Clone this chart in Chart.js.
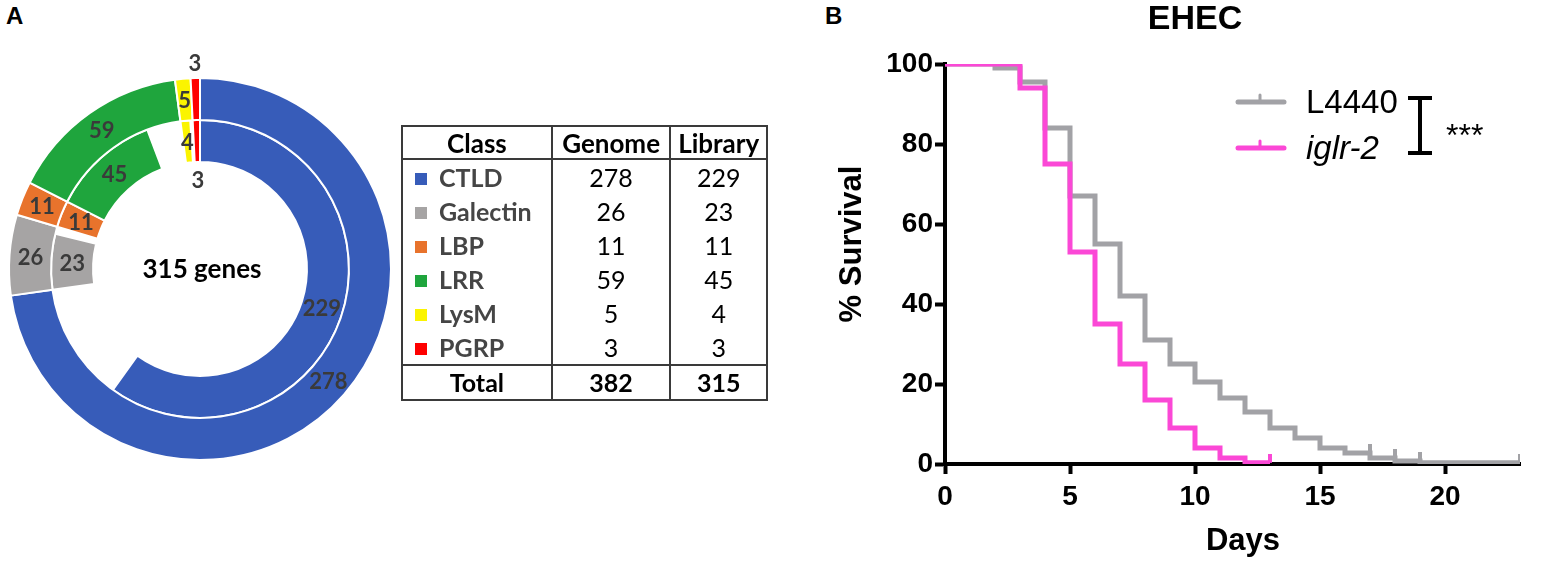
<!DOCTYPE html>
<html lang="en">
<head>
  <meta charset="UTF-8" />
  <title>Lectin classes and EHEC survival</title>
  <script src="https://cdn.jsdelivr.net/npm/chart.js"></script>
  <style>
    body {
      margin: 0;
      width: 1546px;
      height: 561px;
      background: #fff;
      position: relative;
      overflow: hidden;
      font-family: Lato, sans-serif;
    }
    .panel {
      position: absolute;
      font-family: "Liberation Sans", Arial, sans-serif;
      font-weight: bold;
      font-size: 24px;
    }
    #donut { position: absolute; left: -10px; top: 49px; }
    #surv { position: absolute; left: 800px; top: 0; }
    table {
      position: absolute;
      left: 401px;
      top: 125px;
      width: 367px;
      border-collapse: collapse;
      border: 2px solid #3a3a3a;
      font-size: 25px;
      line-height: 1;
    }
    th { font-weight: bold; font-size: 26px; height: 31px; padding: 0; border-bottom: 2px solid #3a3a3a; }
    td { height: 34px; padding: 0; text-align: center; }
    th + th, td + td { border-left: 2px solid #3a3a3a; }
    td.cls { text-align: left; font-weight: bold; color: #454545; padding-left: 12px; }
    .sw { display: inline-block; width: 12px; height: 12px; margin-right: 12px; vertical-align: 2px; }
    tr.total td { font-weight: bold; border-top: 2px solid #3a3a3a; height: 33px; }
  </style>
</head>
<body>
  <div class="panel" style="left:6px; top:2px;">A</div>
  <div class="panel" style="left:825px; top:2px;">B</div>
  <canvas id="donut" width="420" height="440"></canvas>
  <table id="tbl">
    <colgroup><col style="width:151px"><col style="width:119px"><col style="width:97px"></colgroup>
    <thead><tr><th>Class</th><th>Genome</th><th>Library</th></tr></thead>
    <tbody id="tbody"></tbody>
  </table>
  <canvas id="surv" width="746" height="561"></canvas>

  <script>
    // panel A: lectin classes, genome vs RNAi library
    const classes = ['CTLD', 'Galectin', 'LBP', 'LRR', 'LysM', 'PGRP'];
    const genome = [278, 26, 11, 59, 5, 3];
    const library = [229, 23, 11, 45, 4, 3];
    const classColors = ['#375cb9', '#a6a4a4', '#e8732c', '#1fa53d', '#fbf400', '#fe0000'];

    // panel B: survival on EHEC (step values after each day)
    const ctrlDays = [0, 2, 3, 4, 5, 6, 7, 8, 9, 10, 11, 12, 13, 14, 15, 16, 17, 18, 19, 23];
    const ctrlSurvival = [100, 99, 95.5, 84, 67, 55, 42, 31, 25, 20.5, 16.5, 13, 9, 6.5, 4, 2.75, 1.5, 0.75, 0.3, 0.3];
    const iglrDays = [0, 3, 4, 5, 6, 7, 8, 9, 10, 11, 12, 13];
    const iglrSurvival = [100, 94, 75, 53, 35, 25, 16, 9, 4, 1.5, 0.3, 0.3];
    const ctrlCensorDays = [2, 17, 18, 19, 23];
    const ctrlCensorY = [100, 2.75, 1.5, 0.75, 0.3];
    const iglrCensorDays = [13];
    const iglrCensorY = [0.3];
    const xTicks = [0, 5, 10, 15, 20];

    const GRAY = '#a2a2a6';
    const PINK = '#fb48d6';
    const CLEAR = 'rgba(0,0,0,0)';

    // ---- table ----
    const tbody = document.getElementById('tbody');
    classes.forEach((c, i) => {
      const tr = document.createElement('tr');
      tr.innerHTML = '<td class="cls"><span class="sw" style="background:' + classColors[i] + '"></span>' + c +
        '</td><td>' + genome[i] + '</td><td>' + library[i] + '</td>';
      tbody.appendChild(tr);
    });
    const sum = a => a.reduce((s, v) => s + v, 0);
    const tot = document.createElement('tr');
    tot.className = 'total';
    tot.innerHTML = '<td style="text-align:center">Total</td><td>' + sum(genome) + '</td><td>' + sum(library) + '</td>';
    tbody.appendChild(tot);

    // ---- doughnut ----
    // each class takes two slots: the value, then a transparent gap up to the genome count
    const outerData = genome.flatMap(v => [v, 0]);
    const innerData = library.flatMap((v, i) => [v, genome[i] - v]);
    const slotColors = classColors.flatMap(c => [c, CLEAR]);
    const slotBorders = classColors.flatMap(() => ['#fff', CLEAR]);

    const ringLabels = {
      id: 'ringLabels',
      afterDatasetsDraw(chart) {
        const ctx = chart.ctx;
        ctx.save();
        ctx.font = 'bold 22px Lato';
        ctx.fillStyle = '#3a3a3a';
        ctx.textAlign = 'center';
        ctx.textBaseline = 'middle';
        let cx = 0, cy = 0;
        chart.data.datasets.forEach((ds, di) => {
          chart.getDatasetMeta(di).data.forEach((arc, i) => {
            if (i % 2) return;
            const p = arc.getProps(['x', 'y', 'startAngle', 'endAngle', 'innerRadius', 'outerRadius'], true);
            cx = p.x; cy = p.y;
            const mid = (p.startAngle + p.endAngle) / 2;
            let r = (p.innerRadius + p.outerRadius) / 2;
            // the thin PGRP slices get their number outside the ring
            if (i / 2 === 5) r = di === 0 ? p.outerRadius + 15 : p.innerRadius - 18;
            ctx.fillText(ds.data[i], p.x + Math.cos(mid) * r, p.y + Math.sin(mid) * r + 1);
          });
        });
        ctx.font = 'bold 26px Lato';
        ctx.fillStyle = '#000';
        ctx.textBaseline = 'alphabetic';
        ctx.fillText(sum(library) + ' genes', cx + 2, cy + 9);
        ctx.restore();
      }
    };

    new Chart(document.getElementById('donut'), {
      type: 'doughnut',
      data: {
        labels: classes.flatMap(c => [c, '']),
        datasets: [
          { data: outerData, backgroundColor: slotColors, borderColor: slotBorders, borderWidth: 2 },
          { data: innerData, backgroundColor: slotColors, borderColor: slotBorders, borderWidth: 2 }
        ]
      },
      options: {
        responsive: false,
        animation: false,
        radius: 191,
        cutout: '56%',
        plugins: { legend: { display: false }, tooltip: { enabled: false } }
      },
      plugins: [ringLabels]
    });

    // ---- survival curve ----
    function censorMark(color) {
      const c = document.createElement('canvas');
      c.width = 4; c.height = 18;
      const g = c.getContext('2d');
      g.fillStyle = color;
      g.fillRect(0, 0, 4, 9);
      return c;
    }
    const pts = (xs, ys) => xs.map((x, i) => ({ x, y: ys[i] }));
    const tickFont = { family: 'Liberation Sans', weight: 'bold', size: 28 };

    const extras = {
      id: 'extras',
      afterDraw(chart) {
        const ctx = chart.ctx;
        ctx.save();
        ctx.fillStyle = '#000';
        ctx.textAlign = 'center';
        ctx.font = 'bold 34px "Liberation Sans"';
        ctx.fillText('EHEC', 395, 29);
        ctx.font = 'bold 31px "Liberation Sans"';
        ctx.fillText('Days', 443, 550);
        ctx.save();
        ctx.translate(61, 244);
        ctx.rotate(-Math.PI / 2);
        ctx.fillText('% Survival', 0, 0);
        ctx.restore();

        // legend
        ctx.lineWidth = 5;
        ctx.lineCap = 'round';
        [[GRAY, 102, 'L4440', 'normal'], [PINK, 148, 'iglr-2', 'italic']].forEach(([col, y, txt, style]) => {
          ctx.strokeStyle = col;
          ctx.beginPath();
          ctx.moveTo(438, y); ctx.lineTo(484, y);
          ctx.stroke();
          ctx.lineWidth = 3;
          ctx.beginPath();
          ctx.moveTo(460, y); ctx.lineTo(460, y - 7);
          ctx.stroke();
          ctx.lineWidth = 5;
          ctx.font = style + ' 33px "Liberation Sans"';
          ctx.textAlign = 'left';
          ctx.fillText(txt, 506, y + 11);
        });

        // significance bracket
        ctx.strokeStyle = '#000';
        ctx.lineWidth = 4;
        ctx.lineCap = 'butt';
        ctx.beginPath();
        ctx.moveTo(608, 98); ctx.lineTo(632, 98);
        ctx.moveTo(620, 98); ctx.lineTo(620, 153);
        ctx.moveTo(608, 153); ctx.lineTo(632, 153);
        ctx.stroke();
        ctx.font = '32px "Liberation Sans"';
        ctx.fillText('***', 646, 146);
        ctx.restore();
      }
    };

    new Chart(document.getElementById('surv'), {
      type: 'line',
      data: {
        datasets: [
          { label: 'L4440', data: pts(ctrlDays, ctrlSurvival), borderColor: GRAY, borderWidth: 5, stepped: true, pointRadius: 0, order: 3 },
          { label: 'iglr-2', data: pts(iglrDays, iglrSurvival), borderColor: PINK, borderWidth: 5, stepped: true, pointRadius: 0, order: 1 },
          { data: pts(ctrlCensorDays, ctrlCensorY), showLine: false, pointStyle: censorMark(GRAY), pointRadius: 5, order: 2 },
          { data: pts(iglrCensorDays, iglrCensorY), showLine: false, pointStyle: censorMark(PINK), pointRadius: 5, order: 0 }
        ]
      },
      options: {
        responsive: false,
        animation: false,
        layout: { padding: { top: 64, right: 26, left: 0, bottom: 0 } },
        plugins: { legend: { display: false }, tooltip: { enabled: false } },
        scales: {
          x: {
            type: 'linear',
            min: 0,
            max: 23,
            afterBuildTicks: s => { s.ticks = xTicks.map(v => ({ value: v })); },
            ticks: { font: tickFont, color: '#000', padding: 6, maxRotation: 0 },
            grid: { drawOnChartArea: false, tickLength: 10, tickWidth: 4, tickColor: '#000' },
            border: { color: '#000', width: 4 },
            afterFit: s => { s.height = 97; }
          },
          y: {
            min: 0,
            max: 100,
            ticks: { stepSize: 20, font: tickFont, color: '#000', padding: 2 },
            grid: { drawOnChartArea: false, tickLength: 10, tickWidth: 4, tickColor: '#000' },
            border: { color: '#000', width: 4 },
            afterFit: s => { s.width = 145; }
          }
        }
      },
      plugins: [extras]
    });
  </script>
</body>
</html>
